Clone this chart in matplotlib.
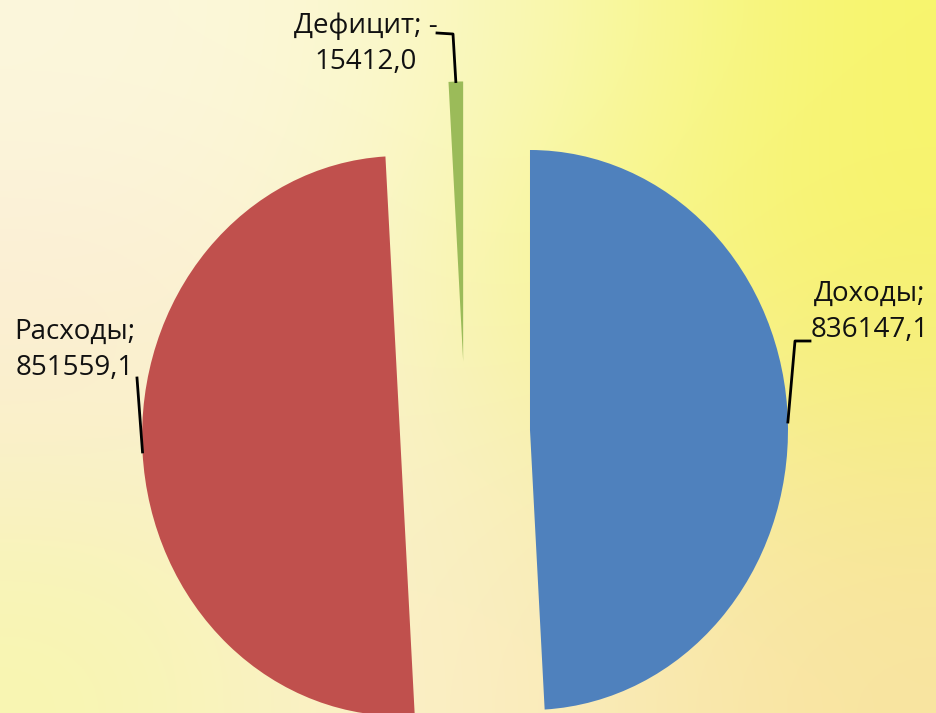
import numpy as np
import matplotlib
matplotlib.use("Agg")
import matplotlib.pyplot as plt
from matplotlib.colors import to_rgb

# ---- data ----
categories = ["Доходы", "Расходы", "Дефицит"]
values = [836147.1, 851559.1, 15412.0]
value_labels = ["836147,1", "851559,1", "-\n15412,0"]
colors = ["#4F81BD", "#C0504D", "#9BBB59"]

plt.rcParams['font.family'] = ['Open Sans', 'DejaVu Sans']

W, H = 936, 713
fig = plt.figure(figsize=(W / 100, H / 100), dpi=100)

# ---- background gradient ----
grid = [["#FCF7DC", "#FBF8D4", "#F9F8A8", "#F7F56C"],
        ["#FCEED6", "#FAF5D0", "#F8F78C", "#F7F26E"],
        ["#FAF0CA", "#F9F2CC", "#F8F0B0", "#F6EC8C"],
        ["#F8F6B0", "#FBF0CC", "#FAEBB8", "#F9E4A0"]]
g = np.array([[to_rgb(c) for c in row] for row in grid])
bg = fig.add_axes([0, 0, 1, 1])
bg.imshow(g, extent=(0, 1, 0, 1), interpolation='bicubic', aspect='auto')
bg.set_axis_off()

# ---- pie ----
cx, cy, rx, ry = 465, 432, 258, 280  # layout in pixels


def px(xp, yp):
    return (xp - cx) / rx, (cy - yp) / ry


ax = fig.add_axes([0, 0, 1, 1])
ax.patch.set_alpha(0)
explode = [0.252] * len(values)
wedges, _ = ax.pie(values, colors=colors, startangle=90, counterclock=False,
                   explode=explode, wedgeprops=dict(linewidth=0))
ax.set_aspect('auto')
x0, y1 = px(0, 0)
x1, y0 = px(W, H)
ax.set_xlim(x0, x1)
ax.set_ylim(y0, y1)
ax.set_axis_off()

# attach points on arcs
attach = []
for w in wedges:
    th = np.deg2rad((w.theta1 + w.theta2) / 2)
    c = w.center
    attach.append((c[0] + w.r * np.cos(th), c[1] + w.r * np.sin(th)))

fs = 20
tc = '#111111'
lw = 2.0
# Доходы
t = f"{categories[0]};\n{value_labels[0]}"
ax.text(*px(870, 312), t, ha='center', va='center', fontsize=fs,
        linespacing=1.35, color=tc)
p = [px(810, 341), px(795, 341), attach[0]]
ax.plot([q[0] for q in p], [q[1] for q in p], color='black', lw=lw)

# Расходы
t = f"{categories[1]};\n{value_labels[1]}"
ax.text(*px(75, 350), t, ha='center', va='center', fontsize=fs,
        linespacing=1.35, color=tc)
p = [px(137, 378), attach[1]]
ax.plot([q[0] for q in p], [q[1] for q in p], color='black', lw=lw)

# Дефицит
t = f"{categories[2]}; {value_labels[2]}"
ax.text(*px(366, 44), t, ha='center', va='center', fontsize=fs,
        linespacing=1.35, color=tc)
p = [px(437, 33), px(453, 34), attach[2]]
ax.plot([q[0] for q in p], [q[1] for q in p], color='black', lw=lw)

fig.savefig("out.png", dpi=100)
